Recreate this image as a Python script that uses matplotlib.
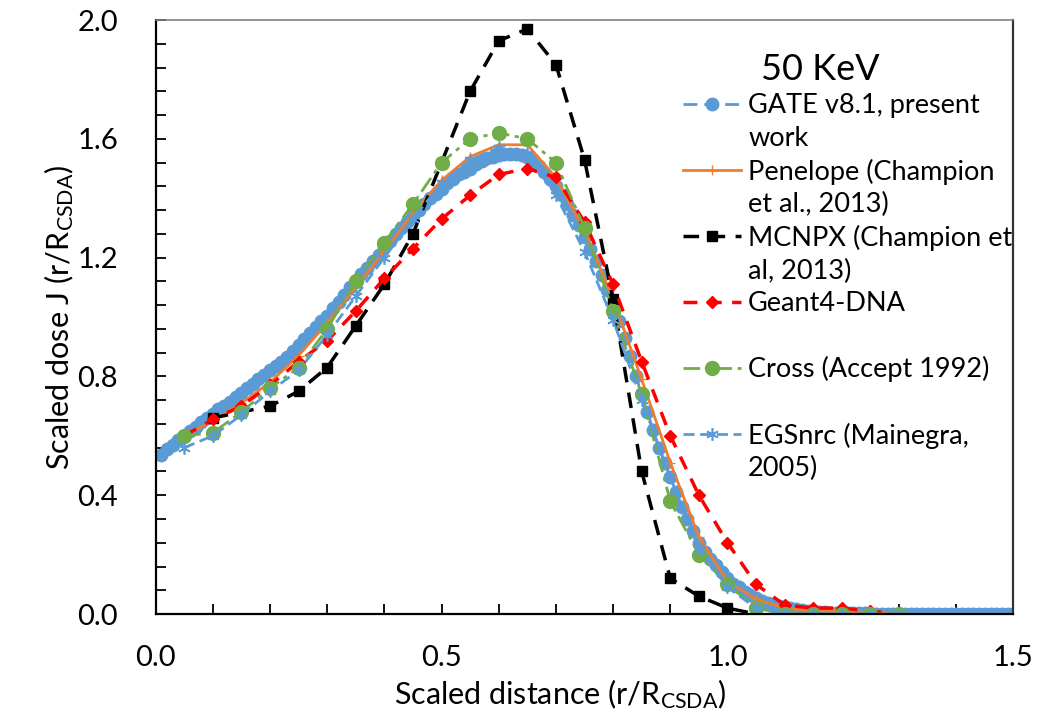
import matplotlib
matplotlib.use('Agg')
import matplotlib.pyplot as plt
import numpy as np
from matplotlib.lines import Line2D
from matplotlib.ticker import MultipleLocator, FormatStrFormatter

plt.rcParams['font.family'] = ['Lato', 'DejaVu Sans']
plt.rcParams['mathtext.default'] = 'regular'

# GATE v8.1 (present work), step 0.01
gate_x = np.round(np.arange(1, 151) * 0.01, 2)
gate_y = [0.535, 0.555, 0.57, 0.585, 0.60, 0.615, 0.63, 0.645, 0.66, 0.675,
          0.69, 0.70, 0.715, 0.73, 0.745, 0.76, 0.775, 0.79, 0.805, 0.82,
          0.835, 0.85, 0.865, 0.885, 0.905, 0.925, 0.945, 0.965, 0.985, 1.005,
          1.03, 1.05, 1.075, 1.10, 1.12, 1.145, 1.165, 1.19, 1.21, 1.235,
          1.255, 1.28, 1.30, 1.32, 1.34, 1.36, 1.38, 1.40, 1.415, 1.43,
          1.45, 1.465, 1.48, 1.49, 1.50, 1.515, 1.525, 1.535, 1.54, 1.545,
          1.55, 1.55, 1.55, 1.545, 1.54, 1.53, 1.51, 1.49, 1.465, 1.44,
          1.41, 1.38, 1.345, 1.31, 1.27, 1.23, 1.19, 1.14, 1.09, 1.04,
          0.985, 0.93, 0.87, 0.80, 0.74, 0.68, 0.62, 0.56, 0.51, 0.46,
          0.41, 0.36, 0.32, 0.28, 0.24, 0.21, 0.185, 0.165, 0.14, 0.12,
          0.10, 0.09, 0.075, 0.063, 0.053, 0.045, 0.038, 0.032, 0.027, 0.023,
          0.019, 0.016, 0.013, 0.011, 0.009, 0.007, 0.006, 0.005, 0.004, 0.003,
          0.003, 0.002, 0.002, 0.002, 0.001, 0.001, 0.001, 0.001, 0.001, 0.001,
          0.001, 0.001, 0.001, 0.0, 0.0, 0.0, 0.0, 0.0, 0.0, 0.0,
          0.0, 0.0, 0.0, 0.0, 0.0, 0.0, 0.0, 0.0, 0.0, 0.0]

# other codes, step 0.05
x05 = [0.05, 0.10, 0.15, 0.20, 0.25, 0.30, 0.35, 0.40, 0.45, 0.50, 0.55, 0.60, 0.65,
       0.70, 0.75, 0.80, 0.85, 0.90, 0.95, 1.00, 1.05, 1.10, 1.15, 1.20, 1.25, 1.30]
penelope = [0.60, 0.65, 0.71, 0.78, 0.87, 0.98, 1.10, 1.22, 1.35, 1.46, 1.54, 1.58, 1.58,
            1.47, 1.29, 1.06, 0.79, 0.51, 0.26, 0.11, 0.05, 0.02, 0.01, 0.01, 0.005, 0.0]
geant4 = [0.60, 0.655, 0.70, 0.77, 0.85, 0.92, 1.02, 1.13, 1.23, 1.33, 1.41, 1.48, 1.50,
          1.47, 1.32, 1.11, 0.85, 0.60, 0.40, 0.24, 0.10, 0.03, 0.02, 0.02, 0.01, 0.0]
cross = [0.60, 0.61, 0.68, 0.76, 0.83, 0.96, 1.12, 1.25, 1.38, 1.52, 1.60, 1.62, 1.60,
         1.52, 1.30, 1.02, 0.74, 0.38, 0.20, 0.10, 0.02, 0.0, 0.0, 0.0, 0.0, 0.0]
egsnrc = [0.56, 0.60, 0.67, 0.75, 0.82, 0.94, 1.07, 1.20, 1.33, 1.45, 1.53, 1.57, 1.55,
          1.41, 1.22, 0.99, 0.72, 0.46, 0.22, 0.09, 0.02, 0.0, 0.0, 0.0, 0.0, 0.0]

mcnpx_x = [0.10, 0.20, 0.25, 0.30, 0.35, 0.40, 0.45, 0.50, 0.55, 0.60, 0.65, 0.70,
           0.75, 0.80, 0.85, 0.90, 0.95, 1.00, 1.05]
mcnpx_y = [0.66, 0.70, 0.75, 0.83, 0.97, 1.11, 1.28, 1.52, 1.76, 1.93, 1.97, 1.85,
           1.53, 1.06, 0.48, 0.12, 0.06, 0.02, 0.0]

blue = '#5B9BD5'
orange = '#ED7D31'
green = '#70AD47'

fig = plt.figure(figsize=(10.61, 7.18), dpi=100)
ax = fig.add_axes([0.1466, 0.1448, 0.8086, 0.8273])

st_gate = dict(color=blue, lw=2, dashes=(5, 2.5), marker='o', ms=9, mec=blue, mfc=blue)
st_pen = dict(color=orange, lw=2, ls='-', marker='+', ms=7, mew=1)
st_mc = dict(color='black', lw=2.5, dashes=(4.5, 3), marker='s', ms=7.5)
st_g4 = dict(color='#FF0000', lw=2.5, dashes=(4, 3), marker='D', ms=6.5)
st_cross = dict(color=green, lw=2, dashes=(6, 2, 1.5, 2), marker='o', ms=10)
st_egs = dict(color=blue, lw=2, dashes=(4, 2), marker=(6, 2, 0), ms=9, mew=1.2)

h1, = ax.plot(gate_x, gate_y, **st_gate)
h2, = ax.plot(x05, penelope, **st_pen)
h3, = ax.plot(mcnpx_x, mcnpx_y, **st_mc)
h4, = ax.plot(x05, geant4, **st_g4)
h5, = ax.plot(x05, cross, **st_cross)
h6, = ax.plot(x05, egsnrc, **st_egs)

ax.set_xlim(0, 1.5)
ax.set_ylim(0, 2.0)
ax.xaxis.set_major_locator(MultipleLocator(0.5))
ax.xaxis.set_minor_locator(MultipleLocator(0.1))
ax.yaxis.set_major_locator(MultipleLocator(0.4))
ax.yaxis.set_minor_locator(MultipleLocator(0.08))
ax.xaxis.set_major_formatter(FormatStrFormatter('%.1f'))
ax.yaxis.set_major_formatter(FormatStrFormatter('%.1f'))
ax.tick_params(which='both', direction='in', length=7, width=1.3, top=False, right=False)
ax.tick_params(axis='x', which='major', labelsize=21, pad=22)
ax.tick_params(axis='y', which='major', labelsize=21, pad=27)

for s in ['left', 'bottom']:
    ax.spines[s].set_linewidth(1.6)
    ax.spines[s].set_color('black')
ax.spines['right'].set_linewidth(1.6)
ax.spines['right'].set_color('#333333')
ax.spines['top'].set_linewidth(1.2)
ax.spines['top'].set_color('#7f7f7f')

ax.set_xlabel('Scaled distance (r/R$_{CSDA}$)', fontsize=22, labelpad=5)
ax.xaxis.label.set_x(0.471)
ax.set_ylabel('Scaled dose J (r/R$_{CSDA}$)', fontsize=22, labelpad=1)

blank = Line2D([], [], linestyle='none', marker='none')
handles = [h1, blank, h2, blank, h3, blank, h4, blank, h5, blank, h6, blank]
labels = ['GATE v8.1, present', 'work', 'Penelope (Champion', 'et al., 2013)',
          'MCNPX (Champion et', 'al, 2013)', 'Geant4-DNA', '',
          'Cross (Accept 1992)', '', 'EGSnrc (Mainegra,', '2005)']
leg = ax.legend(handles, labels, loc='upper left', bbox_to_anchor=(0.615, 0.945),
                frameon=False, fontsize=19.5, title='50 KeV      ', title_fontsize=26,
                handlelength=2.15, handletextpad=0.25, labelspacing=0.28,
                borderpad=0, borderaxespad=0)

fig.savefig('out.png', dpi=100)
